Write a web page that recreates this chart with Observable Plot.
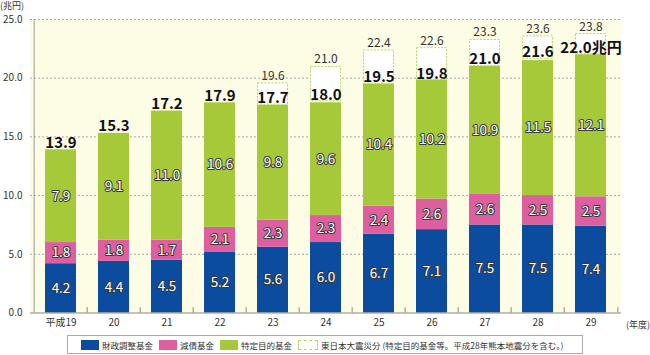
<!DOCTYPE html>
<html><head><meta charset="utf-8">
<script src="https://cdn.jsdelivr.net/npm/d3@7"></script>
<script src="https://cdn.jsdelivr.net/npm/@observablehq/plot@0.6"></script>
<style>
body{margin:0;background:#fff;font-family:"Noto Sans CJK JP","Noto Sans",sans-serif;}
#wrap{position:relative;width:650px;height:355px;}
.unit{position:absolute;font-size:9px;color:#333;white-space:nowrap;}
#legend{position:absolute;left:67px;top:335px;width:516px;height:19px;border:1px solid #aaa;box-sizing:border-box;display:flex;align-items:center;font-size:8.5px;color:#333;padding-left:13px;white-space:nowrap;}
#legend .it{display:flex;align-items:center;margin-right:6px;flex-shrink:0;}
#legend .sw{width:18px;height:10px;margin-right:3px;box-sizing:border-box;}
</style></head>
<body><div id="wrap"><div id="chart"></div>
<div class="unit" style="left:0;top:-1px;">(兆円)</div>
<div class="unit" style="left:626px;top:318px;">(年度)</div>
<div id="legend"></div></div>
<script>
const years = ["平成19","20","21","22","23","24","25","26","27","28","29"];
const seriesNames = ["財政調整基金","減債基金","特定目的基金"];
const seriesColors = ["#0b4c9e","#de5fa0","#a6c93a"];
const fiscal   = [4.2,4.4,4.5,5.2,5.6,6.0,6.7,7.1,7.5,7.5,7.4];
const debt     = [1.8,1.8,1.7,2.1,2.3,2.3,2.4,2.6,2.6,2.5,2.5];
const specific = [7.9,9.1,11.0,10.6,9.8,9.6,10.4,10.2,10.9,11.5,12.1];
const sums      = [13.9,15.3,17.2,17.9,17.7,18.0,19.5,19.8,21.0,21.6,22.0];
const sumLabels = ["13.9","15.3","17.2","17.9","17.7","18.0","19.5","19.8","21.0","21.6","22.0兆円"];
const quakeTotals = [null,null,null,null,19.6,21.0,22.4,22.6,23.3,23.6,23.8];
const quakeLabel = "東日本大震災分 (特定目的基金等。平成28年熊本地震分を含む。)";
const yTicks = [0,5,10,15,20,25];

const rows = [];
[fiscal, debt, specific].forEach((arr, s) => arr.forEach((v, i) => rows.push({year: years[i], series: seriesNames[s], value: v})));
const totals = years.map((y, i) => ({year: y, sum: sums[i], label: sumLabels[i], total: quakeTotals[i]}));
const quake = totals.filter(d => d.total != null);

const W = 650, H = 332, mL = 30, mR = 29;
const step = (W - mL - mR) / years.length;
const font = '"Noto Sans CJK JP","Noto Sans",sans-serif';

const chart = Plot.plot({
  width: W, height: H,
  marginTop: 19, marginBottom: 19.5, marginLeft: mL, marginRight: mR,
  style: {fontFamily: font, background: "transparent", color: "#333"},
  x: {domain: years, paddingInner: 0.42, paddingOuter: 0.21, label: null, tickSize: 0, tickPadding: 6, fontSize: 10.5},
  y: {domain: [0, 25], ticks: yTicks, tickFormat: d3.format(".1f"), label: null, tickSize: 0, tickPadding: 8, fontSize: 11},
  color: {domain: seriesNames, range: seriesColors},
  marks: [
    Plot.frame({fill: "#fdfce4", stroke: null}),
    Plot.ruleY(yTicks.slice(1), {stroke: "#a8a8a8", strokeDasharray: "2,2", strokeWidth: 1}),
    Plot.barY(rows, Plot.stackY({x: "year", y: "value", fill: "series", order: seriesNames})),
    Plot.barY(quake, {x: "year", y1: "sum", y2: "total", fill: "white", stroke: "#b5d86a", strokeDasharray: "2,1.5", strokeWidth: 1, inset: 0.5}),
    Plot.text(rows, Plot.stackY({x: "year", y: "value", z: "series", order: seriesNames, text: d => d.value.toFixed(1), fill: "white", stroke: "#3a3a3a", strokeWidth: 2, fontSize: 13.5})),
    Plot.text(totals, {x: "year", y: "sum", text: "label", lineAnchor: "bottom", dy: -2, fontSize: 15, fontWeight: "bold", fill: "#111"}),
    Plot.text(quake, {x: "year", y: "total", text: d => d.total.toFixed(1), lineAnchor: "bottom", dy: -3, fontSize: 12, fill: "#333"}),
    Plot.ruleY([0], {stroke: "#888", strokeWidth: 1}),
    Plot.ruleX(years.slice(1), {x: d => d, dx: -step / 2, y1: 0, y2: 0.45, stroke: "#888"}),
    Plot.ruleX([years[years.length - 1]], {dx: step / 2, y1: 0, y2: 0.45, stroke: "#888"}),
    Plot.ruleX([years[0]], {dx: -step / 2, y1: 0, y2: 25, stroke: "#999"})
  ]
});
document.getElementById("chart").appendChild(chart);

const lg = d3.select("#legend");
seriesNames.forEach((n, i) => {
  const it = lg.append("div").attr("class", "it");
  it.append("div").attr("class", "sw").style("background", seriesColors[i]);
  it.append("span").text(n);
});
const it = lg.append("div").attr("class", "it");
it.append("div").attr("class", "sw").style("background", "#fff").style("border", "1px dashed #b5d86a").style("width", "20px");
it.append("span").text(quakeLabel);
</script></body></html>
